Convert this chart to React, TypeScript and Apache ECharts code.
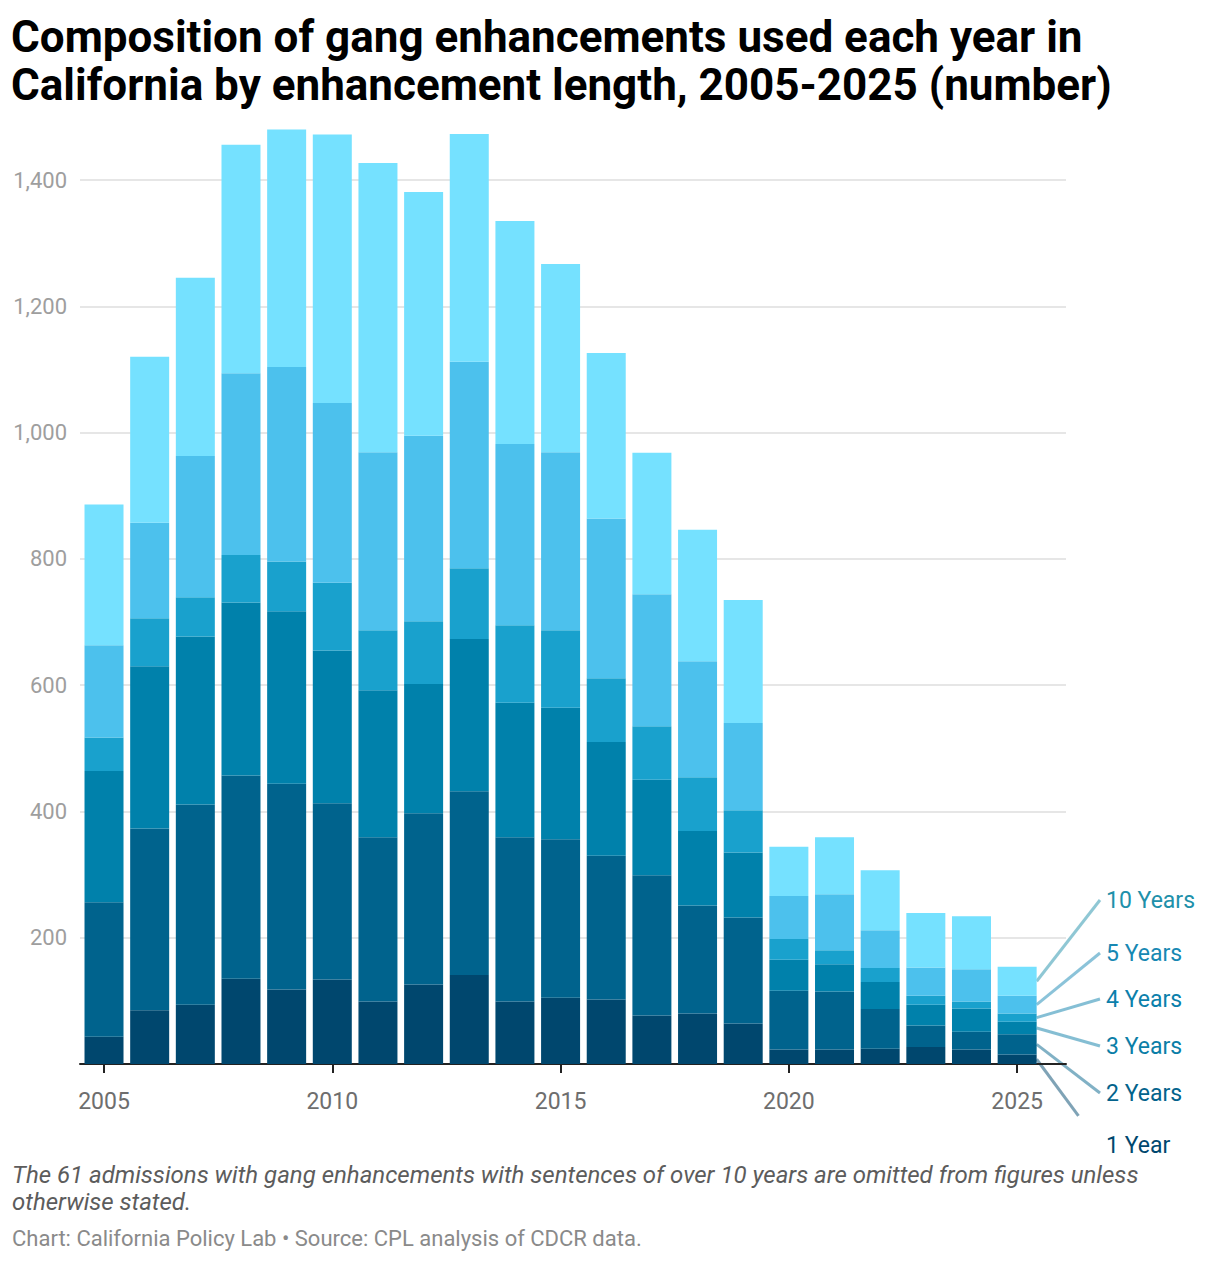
import { useEffect, useRef } from 'react';
import * as echarts from 'echarts';

// years on the x axis
const years = [2005, 2006, 2007, 2008, 2009, 2010, 2011, 2012, 2013, 2014, 2015, 2016, 2017, 2018, 2019, 2020, 2021, 2022, 2023, 2024, 2025];
const yearTicks = [2005, 2010, 2015, 2020, 2025];

// enhancement counts per year, bottom of the stack first
const oneYear = [43, 85, 94, 135, 118, 134, 99, 126, 141, 99, 105, 102, 77, 80, 64, 23, 23, 24, 27, 23, 15];
const twoYears = [213, 288, 317, 322, 326, 279, 260, 271, 291, 260, 251, 228, 222, 171, 168, 93, 92, 63, 34, 28, 32];
const threeYears = [208, 257, 266, 274, 273, 242, 233, 205, 241, 213, 208, 180, 151, 118, 103, 49, 43, 43, 33, 37, 20];
const fourYears = [53, 76, 62, 75, 79, 107, 95, 99, 112, 123, 123, 101, 85, 85, 67, 33, 22, 22, 14, 11, 13];
const fiveYears = [146, 151, 224, 288, 308, 285, 282, 294, 327, 287, 282, 253, 209, 184, 138, 68, 89, 60, 45, 51, 28];
const tenYears = [223, 263, 282, 362, 376, 425, 458, 386, 361, 353, 298, 262, 224, 208, 195, 78, 90, 95, 86, 84, 46];

const seriesNames = ['1 Year', '2 Years', '3 Years', '4 Years', '5 Years', '10 Years'];
const seriesValues = [oneYear, twoYears, threeYears, fourYears, fiveYears, tenYears];

const barColors = ['#00476e', '#00638d', '#0081ab', '#19a1cd', '#4cc1ed', '#75e1ff'];
const labelColors = ['#00476e', '#03638c', '#0b7ea7', '#0b80ab', '#1788b3', '#2090aa'];
// label centres on the right, in page pixels, same order as the series
const labelY = [1145, 1093, 1046, 999, 953, 900];

const TITLE = 'Composition of gang enhancements used each year in\nCalifornia by enhancement length, 2005-2025 (number)';
const NOTE = 'The 61 admissions with gang enhancements with sentences of over 10 years are omitted from figures unless\notherwise stated.';
const SOURCE = 'Chart: California Policy Lab \u2022 Source: CPL analysis of CDCR data.';

const BAR_WIDTH = 39;

const App = () => {
    const chartRef = useRef<HTMLDivElement | null>(null);

    useEffect(() => {
        if (!chartRef.current) return;
        const chart = echarts.init(chartRef.current, null, { renderer: 'svg' });

        const option = {
            animation: false,
            textStyle: { fontFamily: 'Roboto' },
            title: [
                {
                    text: TITLE, left: 11, top: 13, padding: 0,
                    textStyle: { fontSize: 44, fontWeight: 'bold', lineHeight: 48, color: '#000', fontFamily: 'Roboto' }
                },
                {
                    text: NOTE, left: 12, top: 1161, padding: 0,
                    textStyle: { fontSize: 24, fontStyle: 'italic', fontWeight: 'normal', lineHeight: 27, color: '#5c5c5c', fontFamily: 'Roboto' }
                },
                {
                    text: SOURCE, left: 12, top: 1226, padding: 0,
                    textStyle: { fontSize: 22, fontWeight: 'normal', lineHeight: 24, color: '#8a8a8a', fontFamily: 'Roboto' }
                }
            ],
            grid: { left: 80, right: 154, top: 180, bottom: 198 },
            xAxis: {
                type: 'value',
                min: 2004.474,
                max: 2026.07,
                splitLine: { show: false },
                axisLine: { show: true, lineStyle: { color: '#222', width: 2 } },
                axisTick: { show: true, customValues: yearTicks, length: 9, lineStyle: { color: '#222', width: 2 } },
                axisLabel: {
                    customValues: yearTicks, formatter: (v: number) => String(v),
                    fontSize: 23, color: '#6e6e6e', margin: 26, fontFamily: 'Roboto'
                }
            },
            yAxis: {
                type: 'value',
                min: 0,
                max: 1400,
                interval: 200,
                axisLine: { show: false },
                axisTick: { show: false },
                splitLine: { lineStyle: { color: '#e6e6e6', width: 2 } },
                axisLabel: {
                    showMinLabel: false, fontSize: 22, color: '#9e9e9e', margin: 13, fontFamily: 'Roboto',
                    formatter: (v: number) => v.toLocaleString('en-US')
                }
            },
            // [count, year] with the count first, so the stack is on the counts
            series: seriesNames.map((name, i) => ({
                name,
                type: 'bar',
                stack: 'total',
                barWidth: BAR_WIDTH,
                clip: false,
                encode: { x: 1, y: 0 },
                itemStyle: { color: barColors[i] },
                emphasis: { disabled: true },
                data: years.map((y, j) => [seriesValues[i][j], y])
            }))
        };

        chart.setOption(option);

        // right-hand labels pointing at the segments of the last bar
        const last = years.length - 1;
        let base = 0;
        const graphics: any[] = [];
        seriesNames.forEach((name, i) => {
            const v = seriesValues[i][last];
            const mid = base + v / 2;
            base += v;
            const [px, py] = chart.convertToPixel({ gridIndex: 0 }, [years[last], mid]);
            const x1 = px + BAR_WIDTH / 2;
            const tx = 1100;
            const ty = labelY[i];
            // the bottom leader stops short in the original
            const reach = i === 0 ? 0.66 : 1;
            graphics.push({
                type: 'line',
                shape: { x1, y1: py, x2: x1 + (tx - x1) * reach, y2: py + (ty - py) * reach },
                style: { stroke: labelColors[i], lineWidth: 3, opacity: 0.5 }
            });
            graphics.push({
                type: 'text',
                x: 1106,
                y: ty,
                style: {
                    text: name, fill: labelColors[i], fontSize: 23, fontFamily: 'Roboto',
                    align: 'left', verticalAlign: 'middle'
                }
            });
        });
        chart.setOption({ graphic: graphics });

        return () => {
            chart.dispose();
        };
    }, []);

    return (
        <div style={{ position: 'absolute', left: 0, top: 0, width: 1220, height: 1262 }}>
            <div ref={chartRef} style={{ width: '1220px', height: '1262px' }} />
        </div>
    );
};

export default App;
